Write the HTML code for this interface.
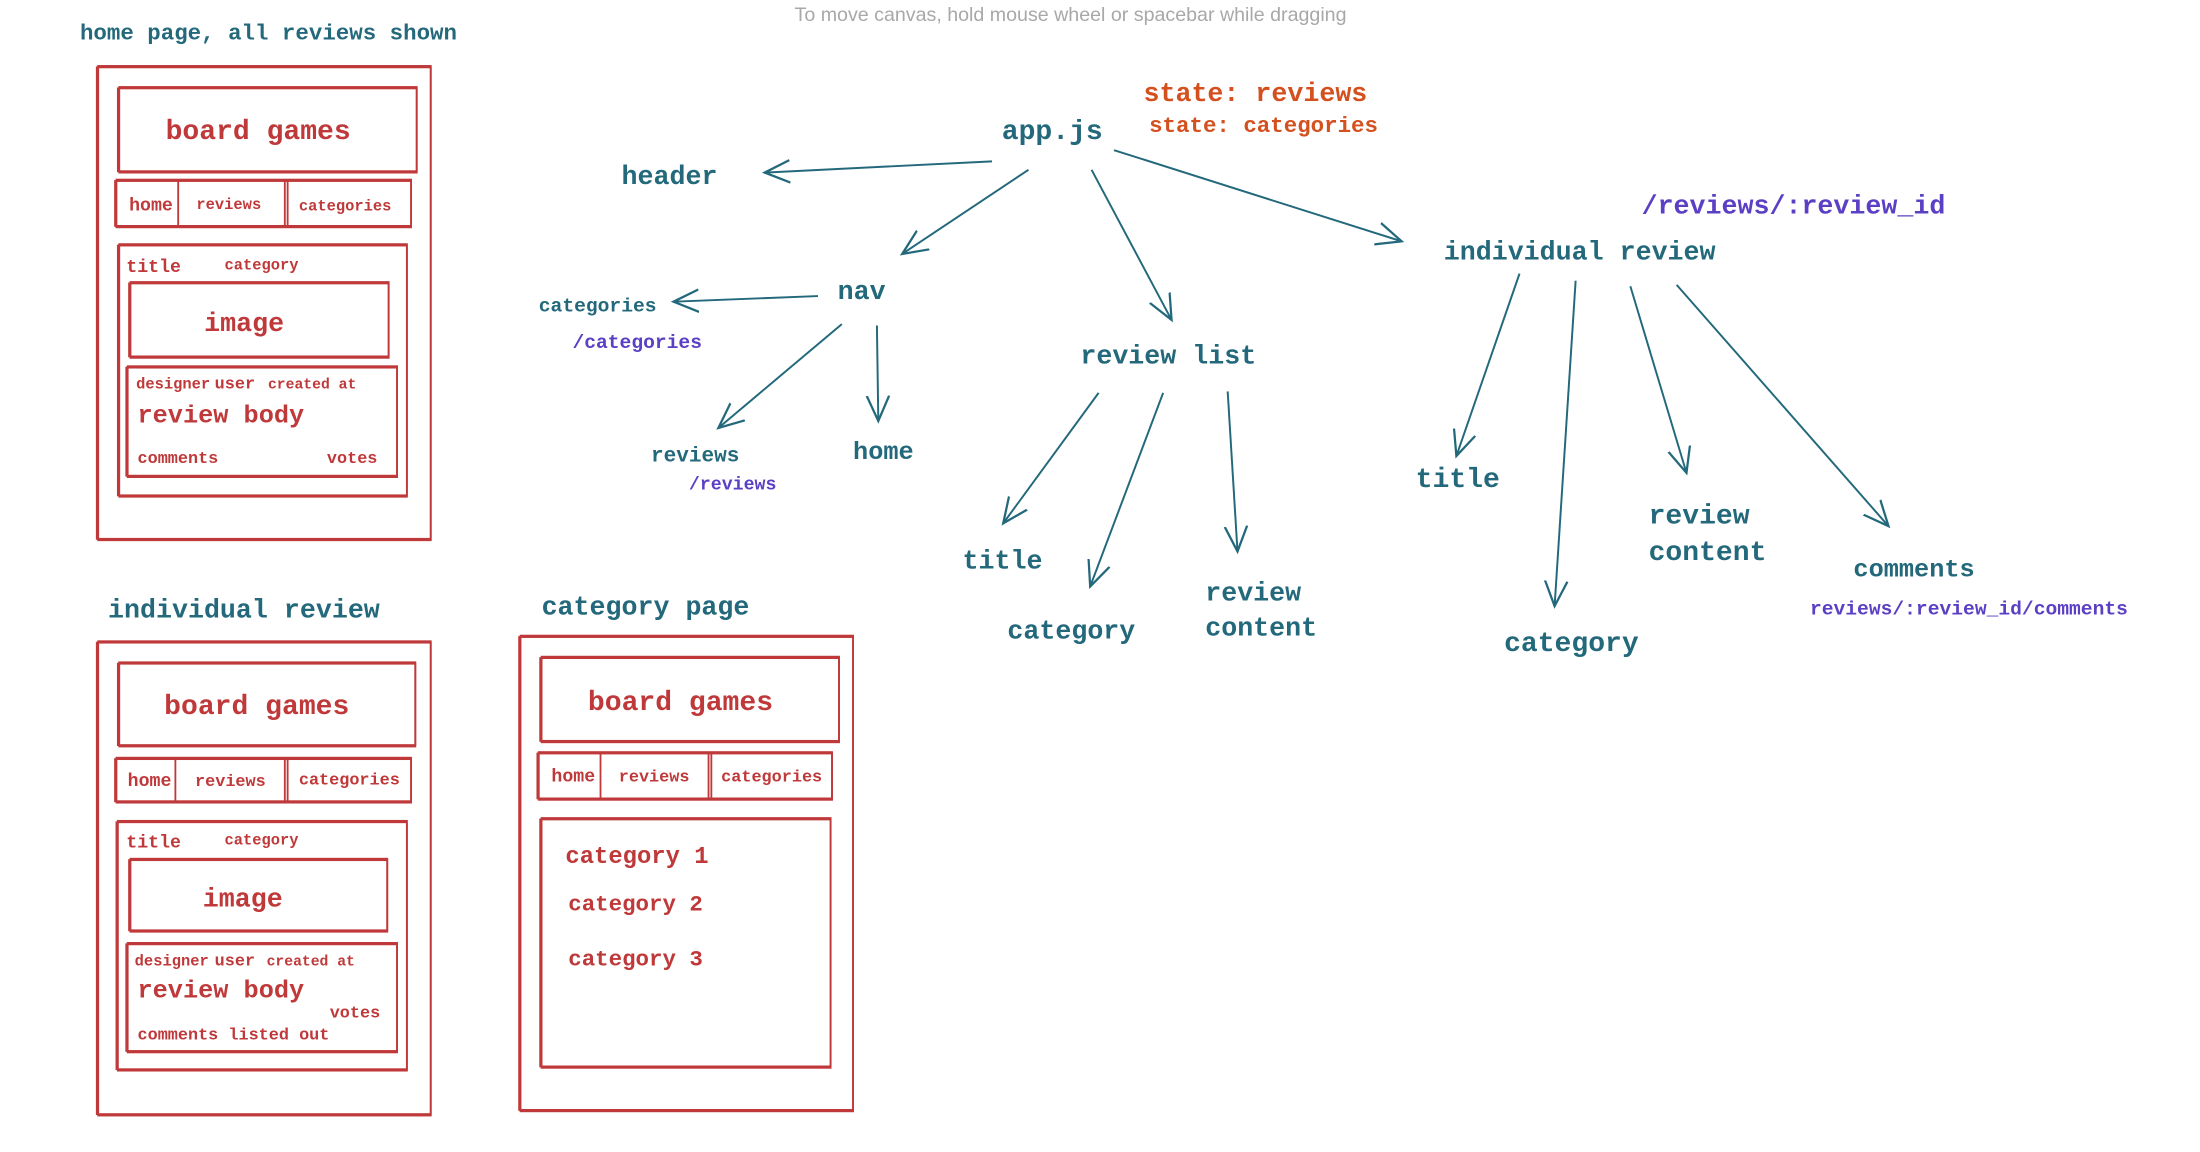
<!DOCTYPE html>
<html><head><meta charset="utf-8"><style>
html,body{margin:0;padding:0;background:#fff;width:2200px;height:1152px;overflow:hidden}
svg{display:block}
text{font-family:"Liberation Mono",monospace;font-weight:bold}
.r{fill:#c0393a}.t{fill:#23697b}.p{fill:#5b3fc4}.o{fill:#d4501f}
.b{fill:none;stroke:#c0393a;stroke-width:1.3}
.a{fill:none;stroke:#23697b;stroke-width:1.4}
</style></head><body>
<svg width="2200" height="1152" viewBox="0 0 1568 821" preserveAspectRatio="none" xmlns="http://www.w3.org/2000/svg">
<defs><marker id="m" viewBox="0 0 20 20" refX="18" refY="10" markerWidth="20" markerHeight="20" markerUnits="userSpaceOnUse" orient="auto"><polyline points="0,2 18,10 0,18" fill="none" stroke="#23697b" stroke-width="1.6"/></marker></defs>
<text x="763" y="15" text-anchor="middle" style="font-family:'Liberation Sans',sans-serif;font-weight:normal;font-size:14px;fill:#a8a8a8">To move canvas, hold mouse wheel or spacebar while dragging</text>

<!-- home page -->
<text x="57" y="28" class="t" font-size="16">home page, all reviews shown</text>
<g class="b">
<rect x="70" y="47" width="237" height="338"/><rect x="69" y="48" width="238" height="336"/>
<rect x="85" y="62" width="212" height="61"/><rect x="84" y="63" width="213" height="59"/>
<rect x="83" y="128" width="210" height="34"/><rect x="82" y="129" width="211" height="32"/>
<line x1="127" y1="128" x2="127" y2="162"/><line x1="203" y1="128" x2="203" y2="162"/><line x1="205" y1="129" x2="205" y2="161"/>
<rect x="85" y="174" width="205" height="180"/><rect x="84" y="175" width="206" height="178"/>
<rect x="93" y="201" width="184" height="54"/><rect x="92" y="202" width="185" height="52"/>
<rect x="91" y="261" width="192" height="79"/><rect x="90" y="262" width="193" height="77"/>
</g>
<text x="184" y="99" text-anchor="middle" class="r" font-size="20">board games</text>
<text x="92" y="150" class="r" font-size="13">home</text>
<text x="140" y="149" class="r" font-size="11">reviews</text>
<text x="213" y="150" class="r" font-size="11">categories</text>
<text x="90" y="194" class="r" font-size="13">title</text>
<text x="160" y="192" class="r" font-size="11">category</text>
<text x="174" y="236" text-anchor="middle" class="r" font-size="19">image</text>
<text x="97" y="277" class="r" font-size="11">designer</text>
<text x="153" y="277" class="r" font-size="12">user</text>
<text x="191" y="277" class="r" font-size="10.5">created at</text>
<text x="98" y="301" class="r" font-size="18">review body</text>
<text x="98" y="330" class="r" font-size="12">comments</text>
<text x="233" y="330" class="r" font-size="12">votes</text>

<!-- individual review page -->
<text x="77" y="440" class="t" font-size="19">individual review</text>
<g class="b">
<rect x="70" y="457" width="237" height="338"/><rect x="69" y="458" width="238" height="336"/>
<rect x="85" y="472" width="211" height="60"/><rect x="84" y="473" width="212" height="58"/>
<rect x="83" y="540" width="210" height="32"/><rect x="82" y="541" width="211" height="30"/>
<line x1="125" y1="540" x2="125" y2="572"/><line x1="203" y1="540" x2="203" y2="572"/><line x1="205" y1="541" x2="205" y2="571"/>
<rect x="84" y="585" width="206" height="178"/><rect x="83" y="586" width="207" height="176"/>
<rect x="93" y="612" width="183" height="52"/><rect x="92" y="613" width="184" height="50"/>
<rect x="91" y="672" width="192" height="78"/><rect x="90" y="673" width="193" height="76"/>
</g>
<text x="183" y="509" text-anchor="middle" class="r" font-size="20">board games</text>
<text x="91" y="560" class="r" font-size="13">home</text>
<text x="139" y="560" class="r" font-size="12">reviews</text>
<text x="213" y="559" class="r" font-size="12">categories</text>
<text x="90" y="604" class="r" font-size="13">title</text>
<text x="160" y="602" class="r" font-size="11">category</text>
<text x="173" y="646" text-anchor="middle" class="r" font-size="19">image</text>
<text x="96" y="688" class="r" font-size="11">designer</text>
<text x="153" y="688" class="r" font-size="12">user</text>
<text x="190" y="688" class="r" font-size="10.5">created at</text>
<text x="98" y="711" class="r" font-size="18">review body</text>
<text x="235" y="725" class="r" font-size="12">votes</text>
<text x="98" y="741" class="r" font-size="12">comments listed out</text>

<!-- category page -->
<text x="386" y="438" class="t" font-size="19">category page</text>
<g class="b">
<rect x="371" y="453" width="237" height="339"/><rect x="370" y="454" width="238" height="337"/>
<rect x="386" y="468" width="212" height="61"/><rect x="385" y="469" width="213" height="59"/>
<rect x="384" y="536" width="209" height="34"/><rect x="383" y="537" width="210" height="32"/>
<line x1="428" y1="536" x2="428" y2="570"/><line x1="505" y1="536" x2="505" y2="570"/><line x1="507" y1="537" x2="507" y2="569"/>
<rect x="386" y="583" width="206" height="178"/><rect x="385" y="584" width="207" height="176"/>
</g>
<text x="485" y="506" text-anchor="middle" class="r" font-size="20">board games</text>
<text x="393" y="557" class="r" font-size="13">home</text>
<text x="441" y="557" class="r" font-size="12">reviews</text>
<text x="514" y="557" class="r" font-size="12">categories</text>
<text x="403" y="615" class="r" font-size="17">category 1</text>
<text x="405" y="649" class="r" font-size="16">category 2</text>
<text x="405" y="688" class="r" font-size="16">category 3</text>

<!-- tree -->
<text x="714" y="99" class="t" font-size="20">app.js</text>
<text x="815" y="72" class="o" font-size="19">state: reviews</text>
<text x="819" y="94" class="o" font-size="16">state: categories</text>
<text x="443" y="131" class="t" font-size="19">header</text>
<text x="597" y="213" class="t" font-size="19">nav</text>
<text x="384" y="222" class="t" font-size="14">categories</text>
<text x="408" y="248" class="p" font-size="14">/categories</text>
<text x="464" y="329" class="t" font-size="15">reviews</text>
<text x="491" y="349" class="p" font-size="13">/reviews</text>
<text x="608" y="327" class="t" font-size="18">home</text>
<text x="770" y="259" class="t" font-size="19">review list</text>
<text x="686" y="405" class="t" font-size="19">title</text>
<text x="718" y="455" class="t" font-size="19">category</text>
<text x="859" y="428" class="t" font-size="19">review</text>
<text x="859" y="453" class="t" font-size="19">content</text>
<text x="1029" y="185" class="t" font-size="19">individual review</text>
<text x="1170" y="152" class="p" font-size="19">/reviews/:review_id</text>
<text x="1009" y="347" class="t" font-size="20">title</text>
<text x="1072" y="464" class="t" font-size="20">category</text>
<text x="1175" y="373" class="t" font-size="20">review</text>
<text x="1175" y="399" class="t" font-size="20">content</text>
<text x="1321" y="411" class="t" font-size="18">comments</text>
<text x="1290" y="438" class="p" font-size="14">reviews/:review_id/comments</text>

<g class="a" marker-end="url(#m)">
<line x1="707" y1="115" x2="545" y2="123"/>
<line x1="733" y1="121" x2="643" y2="181"/>
<line x1="583" y1="211" x2="480" y2="215"/>
<line x1="600" y1="231" x2="512" y2="305"/>
<line x1="625" y1="232" x2="626" y2="300"/>
<line x1="778" y1="121" x2="835" y2="228"/>
<line x1="783" y1="280" x2="715" y2="373"/>
<line x1="829" y1="280" x2="777" y2="418"/>
<line x1="875" y1="279" x2="882" y2="393"/>
<line x1="794" y1="107" x2="999" y2="172"/>
<line x1="1083" y1="195" x2="1038" y2="325"/>
<line x1="1123" y1="200" x2="1108" y2="432"/>
<line x1="1162" y1="204" x2="1202" y2="337"/>
<line x1="1195" y1="203" x2="1346" y2="375"/>
</g>
</svg>
</body></html>
